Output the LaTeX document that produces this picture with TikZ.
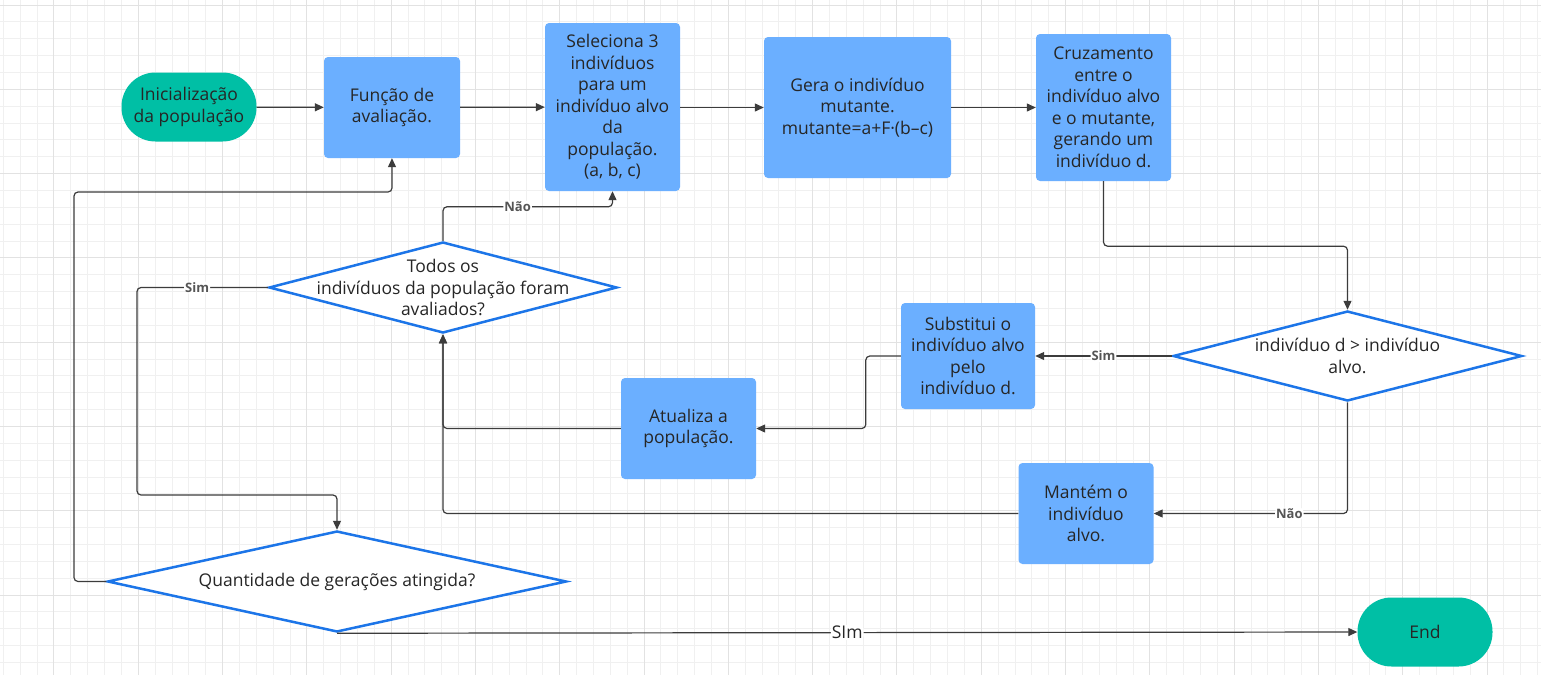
\documentclass[tikz,border=0pt]{standalone}
\usepackage{fontspec}
\setmainfont{Open Sans}
\usepackage{tikz}
\usetikzlibrary{shapes.geometric, arrows.meta, calc, positioning}

\definecolor{boxblue}{HTML}{6BAFFF}
\definecolor{termgreen}{HTML}{00BFA5}
\definecolor{diamblue}{HTML}{1C75E8}
\definecolor{txtgray}{HTML}{262626}
\definecolor{lblgray}{HTML}{555555}
\definecolor{linegray}{HTML}{3C3C3C}
\definecolor{gridminor}{HTML}{F0F0F0}
\definecolor{gridmajor}{HTML}{E2E2E2}

\tikzset{
	txt/.style={font=\fontsize{17.5}{21.5}\selectfont, text=txtgray, align=center},
	box/.style={txt, rectangle, rounded corners=4pt, fill=boxblue, inner sep=0pt},
	terminal/.style={txt, rectangle, rounded corners=34pt, fill=termgreen, inner sep=0pt, minimum width=135pt, minimum height=69pt},
	decision/.style={diamond, draw=diamblue, line width=2.5pt, fill=white, inner sep=0pt},
	conn/.style={draw=linegray, line width=1.2pt, rounded corners=4pt, -{Triangle[length=9pt, width=8pt]}},
	lbl/.style={font=\fontsize{13}{13}\selectfont\bfseries, text=lblgray, fill=white, inner sep=1pt},
}

\begin{document}
\begin{tikzpicture}[x=1pt, y=-1pt]
	\useasboundingbox (0,0) rectangle (1541,675);
	% Background grid
	\fill[white] (0,0) rectangle (1541,675);
	\foreach \i in {0,...,91}
		\draw[gridminor, line width=1pt] ({3.4+\i*16.86},0) -- ({3.4+\i*16.86},675);
	\foreach \j in {0,...,39}
		\draw[gridminor, line width=1pt] (0,{5+\j*16.86}) -- (1541,{5+\j*16.86});
	\foreach \i in {3,8,...,88}
		\draw[gridmajor, line width=1pt] ({3.4+\i*16.86},0) -- ({3.4+\i*16.86},675);
	\foreach \j in {0,5,...,35}
		\draw[gridmajor, line width=1pt] (0,{5+\j*16.86}) -- (1541,{5+\j*16.86});

	% Top row
	\node[terminal] (init) at (189,107) {Inicialização\\da população};
	\node[box, minimum width=136pt, minimum height=101pt] (eval) at (392,107.5) {Função de\\avaliação.};
	\node[box, minimum width=135pt, minimum height=168pt] (sel) at (612.5,107) {Seleciona 3\\indivíduos\\para um\\indivíduo alvo\\da\\população.\\(a, b, c)};
	\node[box, minimum width=187pt, minimum height=141pt] (mut) at (857.5,107.5) {Gera o indivíduo\\mutante.\\mutante=a+F·(b–c)};
	\node[box, minimum width=135pt, minimum height=147pt] (cross) at (1103.5,107.5) {Cruzamento\\entre o\\indivíduo alvo\\e o mutante,\\gerando um\\indivíduo d.};

	% Decisions
	\node[decision, minimum width=348pt, minimum height=91pt,
		label={[txt]center:{Todos os\\indivíduos da população foram\\avaliados?}}] (todos) at (443,287.5) {};
	\node[decision, minimum width=349pt, minimum height=90pt,
		label={[txt]center:{indivíduo d > indivíduo\\alvo.}}] (cmp) at (1347.5,356) {};
	\node[decision, minimum width=459pt, minimum height=101pt,
		label={[txt]center:{Quantidade de gerações atingida?}}] (qtd) at (337,581.5) {};

	% Update boxes
	\node[box, minimum width=134pt, minimum height=106pt] (subst) at (968,356) {Substitui o\\indivíduo alvo\\pelo\\indivíduo d.};
	\node[box, minimum width=135pt, minimum height=101pt] (upd) at (688.5,428.5) {Atualiza a\\população.};
	\node[box, minimum width=135pt, minimum height=101pt] (keep) at (1086,513.5) {Mantém o\\indivíduo\\alvo.};
	\node[terminal] (fim) at (1425,632) {End};

	\coordinate (simbend) at (137,495);
	\coordinate (loopbend) at (74,192);

	% Connectors
	\draw[conn] (init) -- (eval);
	\draw[conn] (eval) -- (sel);
	\draw[conn] (sel.east |- mut.west) -- (mut.west);
	\draw[conn] (mut) -- (cross);
	\draw[conn] (cross.south) -- ++(0,65) -| (cmp.north);
	\draw[conn] (cmp.west) -- node[lbl, pos=0.5]{Sim} (subst.east);
	\draw[conn] (subst.west) -- ++(-35,0) |- (upd.east);
	\draw[conn] (upd.west) -| (todos.south);
	\draw[conn] (cmp.south) |- node[lbl, pos=0.65]{Não} (keep.east);
	\draw[conn] (keep.west) -| (todos.south);
	\draw[conn] (todos.north) -- ++(0,-34) -| node[lbl, pos=0.22]{Não} (sel.south);
	\draw[conn] (todos.west) -| node[lbl, pos=0.27]{Sim} (simbend) -| (qtd.north);
	\draw[conn] (qtd.west) -| (loopbend) -| (eval.south);
	\draw[conn] (qtd.south) -- node[txt, fill=white, inner sep=1pt]{SIm} (fim.west);
\end{tikzpicture}
\end{document}
